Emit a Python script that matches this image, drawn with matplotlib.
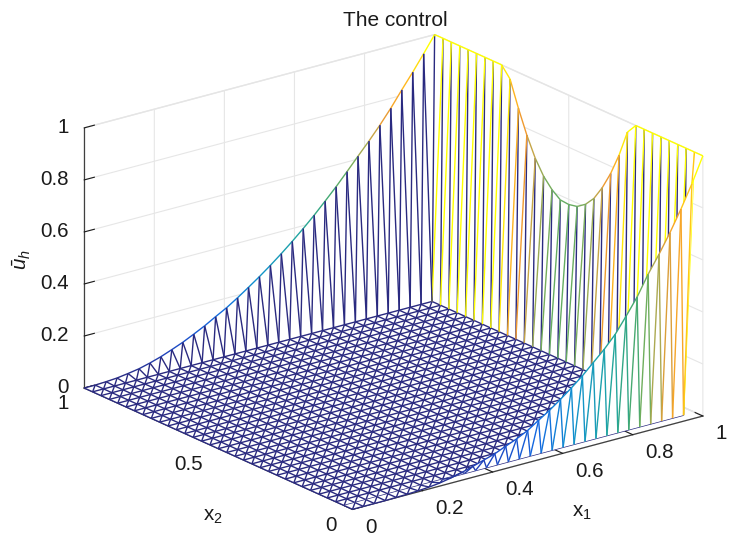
import numpy as np
import matplotlib
matplotlib.use('Agg')
import matplotlib.pyplot as plt
from matplotlib.colors import LinearSegmentedColormap
from mpl_toolkits.mplot3d.art3d import Line3DCollection, Poly3DCollection

plt.rcParams['font.family'] = ['Liberation Sans', 'DejaVu Sans']
plt.rcParams['mathtext.fontset'] = 'custom'
plt.rcParams['mathtext.rm'] = 'Liberation Sans'
plt.rcParams['mathtext.it'] = 'Liberation Sans:italic'

# boundary values, interior of the mesh is zero
n = 32
# x2 = 1, from x1 = 0 to x1 = 1
back_rim = [0, 0, .002, .005, .011, .018, .029, .042, .058, .075, .095, .116, .140,
            .163, .190, .219, .249, .281, .315, .351, .389, .429, .472, .516, .563,
            .611, .658, .708, .762, .821, .878, .938, 1]
# x1 = 1, from x2 = 1 to x2 = 0
right_rim = [1, 1, 1, 1, 1, 1, 1, 1, 1, .96, .862, .774, .70, .645, .608, .583, .58,
             .587, .61, .647, .703, .772, .857, .96, 1, 1, 1, 1, 1, 1, 1, 1, 1]
# x2 = 0, from x1 = 0 to x1 = 1
front_rim = [0, 0, 0, 0, .001, .002, .004, .007, .012, .02, .03, .042, .055, .068,
             .086, .103, .124, .152, .179, .21, .243, .278, .318, .358, .404, .463,
             .525, .601, .667, .739, .818, .904, 1]

x1_ticks = [0, .2, .4, .6, .8, 1]
x1_labels = ['0', '0.2', '0.4', '0.6', '0.8', '1']
x2_ticks = [0, .5, 1]
x2_labels = ['0', '0.5', '1']
z_ticks = [0, .2, .4, .6, .8, 1]
z_labels = ['0', '0.2', '0.4', '0.6', '0.8', '1']

z = np.zeros((n + 1, n + 1))
z[:, n] = back_rim
z[n, :] = right_rim[::-1]
z[:, 0] = front_rim
x = np.linspace(0, 1, n + 1)

cmap = LinearSegmentedColormap.from_list('rim', [
    (0, '#2a2a80'), (.06, '#1f45c0'), (.15, '#1468e0'), (.25, '#1090d0'), (.38, '#1fa5a5'),
    (.5, '#3aa878'), (.6, '#6fae5e'), (.68, '#b8a84e'), (.78, '#f29a2e'),
    (.88, '#ffb81e'), (1, '#ffff00')])


def node(i, j):
    return (x[i], x[j], z[i, j])


back_tri, front_tri = [], []
back_seg, back_col, front_seg, front_col = [], [], [], []


def add_edge(first, second):
    # the edge takes the colour of its first node
    seg = [node(*first), node(*second)]
    col = cmap(z[first])
    if first[1] == 0 or second[1] == 0:
        front_seg.append(seg)
        front_col.append(col)
    else:
        back_seg.append(seg)
        back_col.append(col)


for i in range(n):
    for j in range(n):
        tris = [[node(i, j), node(i + 1, j), node(i + 1, j + 1)],
                [node(i, j), node(i + 1, j + 1), node(i, j + 1)]]
        if j == 0:
            front_tri += tris
        else:
            back_tri += tris
        add_edge((i, j), (i + 1, j + 1))
for i in range(n):
    for j in range(n + 1):
        add_edge((i + 1, j), (i, j))
        add_edge((j, i), (j, i + 1))

fig = plt.figure(figsize=(7.29, 5.33), dpi=100)
ax = fig.add_axes([19.2 / 729, -113.3 / 533, 1, 729 / 533], projection='3d',
                  proj_type='ortho', computed_zorder=False)
ax.view_init(elev=20.3, azim=-127.5)
ax.set_box_aspect((441, 440, 277), zoom=.9092)

ax.add_collection3d(Poly3DCollection(back_tri, facecolor='white', edgecolor='none', zorder=2), autolim=False)
ax.add_collection3d(Line3DCollection(back_seg, colors=back_col, linewidths=1, zorder=3), autolim=False)
ax.add_collection3d(Poly3DCollection(front_tri, facecolor='white', edgecolor='none', zorder=4), autolim=False)
ax.add_collection3d(Line3DCollection(front_seg, colors=front_col, linewidths=1, zorder=5), autolim=False)

ax.set_xlim(0, 1)
ax.set_ylim(0, 1)
ax.set_zlim(0, 1)
ax.set_xticks(x1_ticks, x1_labels)
ax.set_yticks(x2_ticks, x2_labels)
ax.set_zticks(z_ticks, z_labels)

for axis in (ax.xaxis, ax.yaxis, ax.zaxis):
    axis.set_pane_color((1, 1, 1, 1))
    axis.pane.set_edgecolor('#e4e4e4')
    axis.line.set_color('#404040')
    axis.line.set_linewidth(.9)
    axis._axinfo['grid']['color'] = '#e6e6e6'
    axis._axinfo['grid']['linewidth'] = .8
    axis._axinfo['tick']['inward_factor'] = 0
    axis._axinfo['tick']['outward_factor'] = .36
ax.tick_params(labelsize=14.8, colors='#1a1a1a', width=.9)
ax.xaxis.set_tick_params(pad=4.8)
ax.yaxis.set_tick_params(pad=4.3)
ax.zaxis.set_tick_params(pad=-1.2)
plt.setp(ax.get_xticklabels(), ha='left', va='center')
plt.setp(ax.get_yticklabels(), ha='right', va='center')
plt.setp(ax.get_zticklabels(), ha='right', va='center')

# axis labels and title placed in pixels of the figure
fig.text(582 / 729, 1 - 512 / 533, 'x$_1$', fontsize=14.8, ha='center', va='center', color='#1a1a1a')
fig.text(213 / 729, 1 - 517 / 533, 'x$_2$', fontsize=14.8, ha='center', va='center', color='#1a1a1a')
fig.text(22 / 729, 1 - 260 / 533, r'$\bar{u}_h$', fontsize=14.8, rotation=90, ha='center', va='center', color='#1a1a1a')
fig.text(395 / 729, 1 - 21 / 533, 'The control', fontsize=15, ha='center', va='center', color='#1a1a1a')

plt.savefig('out.png', dpi=100)
